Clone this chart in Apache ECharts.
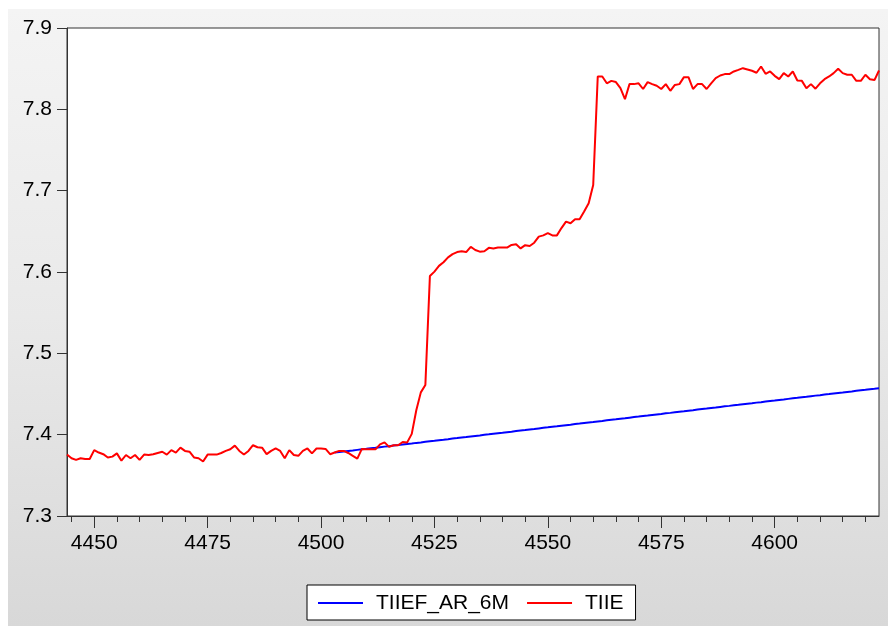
<!DOCTYPE html>
<html>
<head>
<meta charset="utf-8">
<script src="https://cdn.jsdelivr.net/npm/echarts@6/dist/echarts.min.js"></script>
<style>
  html, body { margin: 0; padding: 0; background: #ffffff; }
  #bg { position: absolute; left: 8px; top: 9px; width: 880px; height: 617px;
        background: linear-gradient(to bottom, #f4f4f4 0%, #e9e9e9 50%, #d8d8d8 100%); }
  #chart { position: absolute; left: 0; top: 0; width: 888px; height: 626px; }
</style>
</head>
<body>
<div id="bg"></div>
<div id="chart"></div>
<script>
// First observation index on the x axis
const xStart = 4444;

// TIIE (red) — one value per observation, 4444 .. 4623
const tiie = [
  7.3755, 7.371, 7.369, 7.371, 7.370, 7.370, 7.381, 7.378, 7.376, 7.372,
  7.373, 7.377, 7.368, 7.375, 7.371, 7.375, 7.369, 7.3755, 7.375, 7.376,
  7.3775, 7.379, 7.3755, 7.381, 7.378, 7.384, 7.380, 7.379, 7.372, 7.371,
  7.367, 7.3755, 7.3755, 7.3755, 7.3775, 7.380, 7.382, 7.3865, 7.380, 7.3755,
  7.380, 7.387, 7.3845, 7.384, 7.376, 7.380, 7.383, 7.380, 7.371, 7.381,
  7.375, 7.374, 7.380, 7.383, 7.377, 7.383, 7.383, 7.3825, 7.376, 7.378,
  7.380, 7.380, 7.3775, 7.374, 7.3705, 7.3825, 7.382, 7.382, 7.382, 7.388,
  7.3905, 7.385, 7.387, 7.387, 7.391, 7.3905, 7.401, 7.430, 7.452, 7.461,
  7.595, 7.6005, 7.6075, 7.612, 7.618, 7.622, 7.6245, 7.6255, 7.6245, 7.631,
  7.627, 7.625, 7.6255, 7.6297, 7.629, 7.630, 7.630, 7.630, 7.6333, 7.634,
  7.629, 7.633, 7.632, 7.636, 7.6435, 7.645, 7.6477, 7.645, 7.645, 7.654,
  7.662, 7.660, 7.665, 7.665, 7.6745, 7.6845, 7.707, 7.8404, 7.8404, 7.832,
  7.835, 7.8335, 7.826, 7.8125, 7.831, 7.831, 7.832, 7.825, 7.8335, 7.831,
  7.829, 7.825, 7.831, 7.8228, 7.830, 7.831, 7.8396, 7.8396, 7.825, 7.831,
  7.831, 7.825, 7.832, 7.8384, 7.8416, 7.8433, 7.8433, 7.8466, 7.8485, 7.8506,
  7.849, 7.8474, 7.845, 7.8527, 7.8437, 7.8466, 7.8412, 7.8371, 7.8445, 7.8404,
  7.8466, 7.8355, 7.835, 7.826, 7.831, 7.8254, 7.832, 7.8371, 7.8404, 7.8445,
  7.8498, 7.8445, 7.8425, 7.8425, 7.835, 7.835, 7.8425, 7.8371, 7.836, 7.8478
];

// TIIEF_AR_6M (blue) — starts at observation 4503
const forecastStart = 4503;
const tiiefAr6m = [
  7.3780, 7.3787, 7.3793, 7.3800, 7.3806, 7.3813, 7.3820, 7.3826, 7.3833, 7.3839,
  7.3846, 7.3853, 7.3859, 7.3866, 7.3872, 7.3879, 7.3886, 7.3892, 7.3899, 7.3905,
  7.3912, 7.3919, 7.3925, 7.3932, 7.3938, 7.3945, 7.3952, 7.3958, 7.3965, 7.3971,
  7.3978, 7.3985, 7.3991, 7.3998, 7.4004, 7.4011, 7.4018, 7.4024, 7.4031, 7.4037,
  7.4044, 7.4051, 7.4057, 7.4064, 7.4070, 7.4077, 7.4084, 7.4090, 7.4097, 7.4103,
  7.4110, 7.4117, 7.4123, 7.4130, 7.4136, 7.4143, 7.4150, 7.4156, 7.4163, 7.4169,
  7.4176, 7.4183, 7.4189, 7.4196, 7.4202, 7.4209, 7.4216, 7.4222, 7.4229, 7.4235,
  7.4242, 7.4249, 7.4255, 7.4262, 7.4268, 7.4275, 7.4282, 7.4288, 7.4295, 7.4301,
  7.4308, 7.4315, 7.4321, 7.4328, 7.4334, 7.4341, 7.4348, 7.4354, 7.4361, 7.4367,
  7.4374, 7.4381, 7.4387, 7.4394, 7.4400, 7.4407, 7.4414, 7.4420, 7.4427, 7.4433,
  7.4440, 7.4447, 7.4453, 7.4460, 7.4466, 7.4473, 7.4480, 7.4486, 7.4493, 7.4499,
  7.4506, 7.4513, 7.4519, 7.4526, 7.4532, 7.4539, 7.4546, 7.4552, 7.4559, 7.4565,
  7.4572
];

// Axis settings
const yTicks = [7.3, 7.4, 7.5, 7.6, 7.7, 7.8, 7.9];
const seriesNames = ['TIIEF_AR_6M', 'TIIE'];

// Build category axis and aligned blue series
const categories = tiie.map((_, i) => String(xStart + i));
const bluePadded = categories.map(c => {
  const k = Number(c) - forecastStart;
  return (k >= 0 && k < tiiefAr6m.length) ? tiiefAr6m[k] : null;
});

const FONT = 'Liberation Sans, Arial, sans-serif';
const chart = echarts.init(document.getElementById('chart'), null, { renderer: 'canvas' });

chart.setOption({
  backgroundColor: 'transparent',
  animation: false,
  grid: {
    left: 67, top: 28, width: 812, height: 488,
    show: true, backgroundColor: '#ffffff', borderColor: '#333333', borderWidth: 1
  },
  legend: {
    data: seriesNames,
    left: 307, top: 585,
    padding: [7, 12, 6, 11],
    icon: 'rect',
    itemWidth: 45, itemHeight: 2, itemGap: 18,
    backgroundColor: '#ffffff', borderColor: '#000000', borderWidth: 1,
    textStyle: { fontFamily: FONT, fontSize: 21, color: '#000', padding: [0, 0, 0, 8], lineHeight: 22 }
  },
  xAxis: [
    {
      type: 'category', data: categories, boundaryGap: false,
      axisLine: { show: true, lineStyle: { color: '#333', width: 1 } },
      axisTick: { show: true, length: 6, lineStyle: { color: '#333' },
        interval: (i, v) => Number(v) % 5 === 0 },
      axisLabel: { show: true, margin: 17, fontFamily: FONT, fontSize: 21, color: '#000',
        interval: (i, v) => Number(v) % 25 === 0 },
      splitLine: { show: false }
    },
    {
      type: 'category', data: categories, boundaryGap: false, position: 'bottom',
      axisLine: { show: false },
      axisTick: { show: true, length: 12, lineStyle: { color: '#333' },
        interval: (i, v) => Number(v) % 25 === 0 },
      axisLabel: { show: false },
      splitLine: { show: false }
    }
  ],
  yAxis: {
    type: 'value', min: yTicks[0], max: yTicks[yTicks.length - 1], interval: 0.1,
    axisLine: { show: true, lineStyle: { color: '#333', width: 1 } },
    axisTick: { show: true, length: 10, lineStyle: { color: '#333' } },
    axisLabel: { margin: 15, fontFamily: FONT, fontSize: 21, color: '#000',
      formatter: v => v.toFixed(1) },
    splitLine: { show: false }
  },
  series: [
    {
      name: seriesNames[0], type: 'line', data: bluePadded, xAxisIndex: 0,
      symbol: 'none', showSymbol: false, connectNulls: false,
      lineStyle: { color: '#0000ff', width: 2 }, itemStyle: { color: '#0000ff' }
    },
    {
      name: seriesNames[1], type: 'line', data: tiie, xAxisIndex: 0,
      symbol: 'none', showSymbol: false,
      lineStyle: { color: '#ff0000', width: 2 }, itemStyle: { color: '#ff0000' }
    }
  ]
});
</script>
</body>
</html>
